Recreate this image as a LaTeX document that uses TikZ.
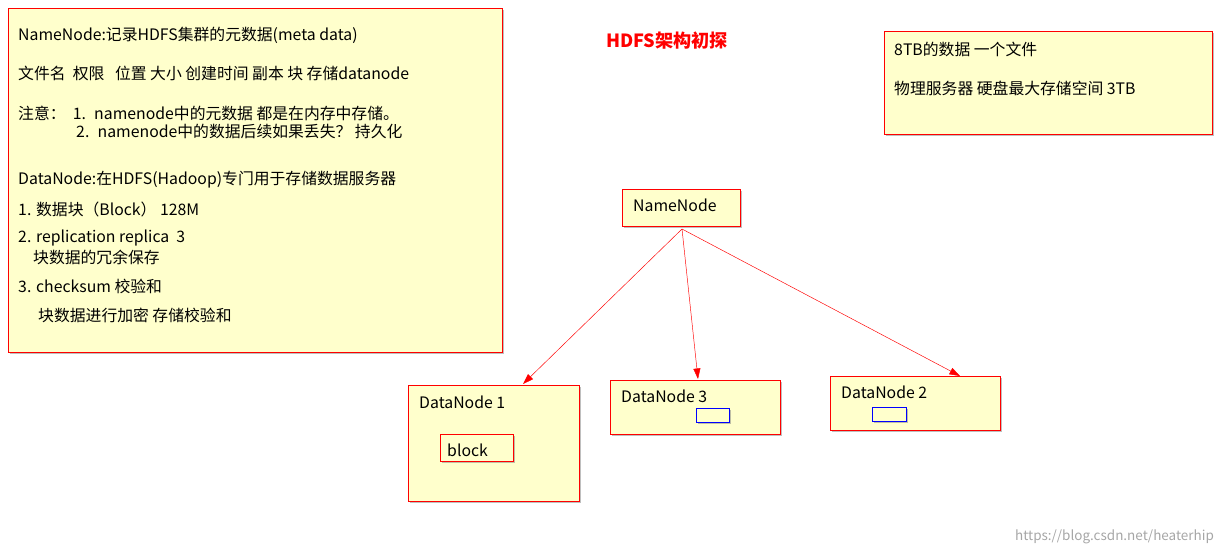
\documentclass[tikz,border=0pt]{standalone}
\usepackage{fontspec}
\setmainfont{Noto Sans CJK SC}
\usetikzlibrary{positioning,shadows,arrows.meta}
\definecolor{note}{RGB}{255,255,204}
\tikzset{
  box/.style={draw=red, fill=note, thick, drop shadow={opacity=0.5, shadow xshift=2pt, shadow yshift=-2pt}, inner sep=0pt},
  txt/.style={anchor=west, inner sep=0pt, font=\fontsize{13.5}{15}\selectfont},
  link/.style={red, -{Triangle[length=9pt,width=6pt]}}
}
\begin{document}
\begin{tikzpicture}[x=0.03cm, y=-0.03cm]
    \useasboundingbox (0,0) rectangle (1227,554);
    % Notes
    \node[box, minimum width=494*0.03cm, minimum height=344*0.03cm] (info) at (255,180) {};
    \node[box, minimum width=328*0.03cm, minimum height=103*0.03cm] (size) at (1048,82.5) {};
    \node[txt] (t1) at (18,35) {NameNode:记录HDFS集群的元数据(meta data)};
    \node[txt] (t2) at (18,73) {文件名 \ 权限 \ \ 位置 大小 创建时间 副本 块 存储datanode};
    \node[txt] (t3) at (18,113) {注意： \ 1. \ namenode中的元数据 都是在内存中存储。};
    \node[txt] (t4) at (76,131) {2. \ namenode中的数据后续如果丢失？ 持久化};
    \node[txt] (t5) at (18,180) {DataNode:在HDFS(Hadoop)专门用于存储数据服务器};
    \node[txt] (t6) at (18,209) {1. 数据块（Block） 128M};
    \node[txt] (t7) at (18,238) {2. replication replica \ 3};
    \node[txt] (t8) at (33,257) {块数据的冗余保存};
    \node[txt] (t9) at (18,286) {3. checksum 校验和};
    \node[txt] (t10) at (38,315) {块数据进行加密 存储校验和};
    \node[txt] (s1) at (894,49) {8TB的数据 一个文件};
    \node[txt] (s2) at (894,88) {物理服务器 硬盘最大存储空间 3TB};
    % Title
    \node[font=\fontsize{15.5}{17}\selectfont\bfseries, text=red] (title) at (667,41) {HDFS架构初探};
    % Cluster
    \node[box, minimum width=118*0.03cm, minimum height=37*0.03cm] (nn) at (681,207.5) {};
    \node[txt] (nnl) at (633,205) {NameNode};
    \node[box, minimum width=171*0.03cm, minimum height=116*0.03cm] (dn1) at (493.5,443) {};
    \node[txt] (dn1l) at (419,402) {DataNode 1};
    \node[box, minimum width=73*0.03cm, minimum height=27*0.03cm] (blk) at (476.5,447.5) {};
    \node[txt] (blkl) at (447,450) {block};
    \node[box, minimum width=170*0.03cm, minimum height=54*0.03cm] (dn3) at (695,407) {};
    \node[txt] (dn3l) at (621,396) {DataNode 3};
    \node[box, draw=blue, thin, minimum width=33*0.03cm, minimum height=14*0.03cm] (b3) at (712.5,415) {};
    \node[box, minimum width=170*0.03cm, minimum height=54*0.03cm] (dn2) at (915,403) {};
    \node[txt] (dn2l) at (841,392) {DataNode 2};
    \node[box, draw=blue, thin, minimum width=34*0.03cm, minimum height=14*0.03cm] (b2) at (889,414) {};
    % Links
    \coordinate (src) at (682,229);
    \coordinate (in1) at (523,384);
    \coordinate (in3) at (698,379);
    \coordinate (in2) at (960,376);
    \draw[link] (src) -- (in1);
    \draw[link] (src) -- (in3);
    \draw[link] (src) -- (in2);
    \node[gray!70, anchor=east, font=\fontsize{11.5}{13}\selectfont] (url) at (1218,537) {https://blog.csdn.net/heaterhip};
\end{tikzpicture}
\end{document}
